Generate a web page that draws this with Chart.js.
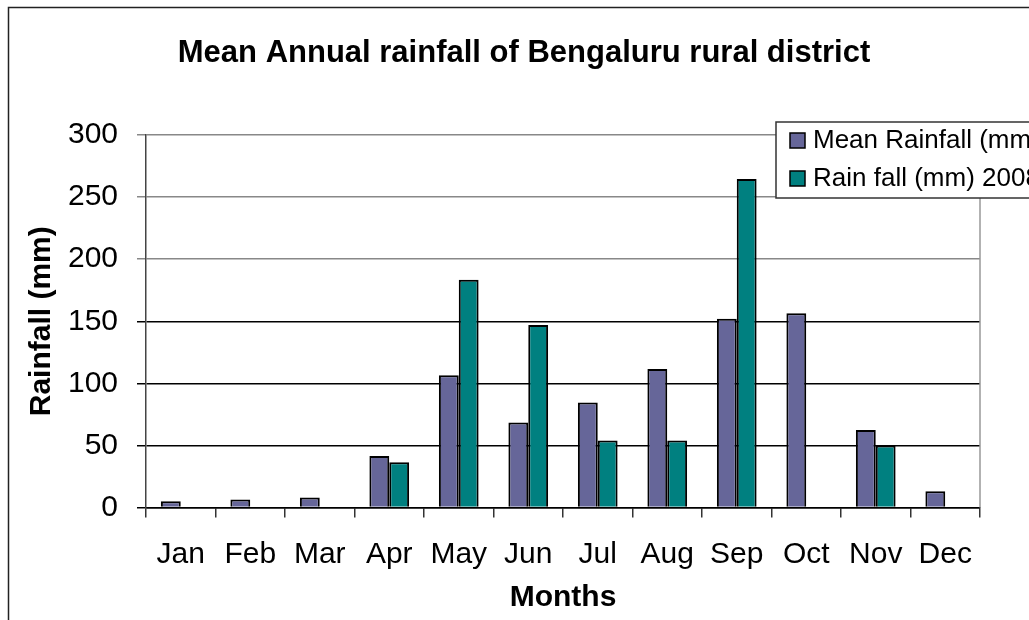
<!DOCTYPE html>
<html lang="en">
<head>
  <meta charset="UTF-8">
  <title>Mean Annual rainfall of Bengaluru rural district</title>
  <script src="https://cdn.jsdelivr.net/npm/chart.js"></script>
  <style>
    body { margin: 0; background: #fff; }
    #wrap { width: 1029px; height: 620px; }
  </style>
</head>
<body>
<div id="wrap"><canvas id="rainChart"></canvas></div>

<script>
// data (mm)
const months = ["Jan", "Feb", "Mar", "Apr", "May", "Jun", "Jul", "Aug", "Sep", "Oct", "Nov", "Dec"];
const meanRainfall = [5, 6.5, 8, 41.5, 106.5, 68.5, 84.5, 111.5, 152, 156.5, 62.5, 13];
const rain2008 = [null, null, null, 36.5, 183.5, 147, 54, 54, 264.5, null, 50, null];
const yTicks = [0, 50, 100, 150, 200, 250, 300];

const FONT = "'Liberation Sans', Arial, sans-serif";
Chart.defaults.font.family = FONT;
Chart.defaults.color = "#000";

// title, legend box, outer frame, right edge of plot
const excelBits = {
  id: "excelBits",
  afterDraw(chart) {
    const ctx = chart.ctx;
    const area = chart.chartArea;
    ctx.save();

    ctx.strokeStyle = "#999";
    ctx.lineWidth = 1.5;
    ctx.beginPath();
    ctx.moveTo(area.right, area.top);
    ctx.lineTo(area.right, area.bottom);
    ctx.stroke();

    ctx.fillStyle = "#000";
    ctx.font = "bold 31px " + FONT;
    ctx.textAlign = "center";
    ctx.textBaseline = "middle";
    ctx.fillText("Mean Annual rainfall of Bengaluru rural district", 524, 53);

    // legend
    ctx.fillStyle = "#fff";
    ctx.fillRect(776, 122, 300, 76);
    ctx.strokeStyle = "#333";
    ctx.lineWidth = 1.5;
    ctx.strokeRect(776, 122, 300, 76);
    ctx.font = "26px " + FONT;
    ctx.textAlign = "left";
    chart.data.datasets.forEach((ds, i) => {
      const cy = 140 + i * 38;
      ctx.fillStyle = ds.backgroundColor;
      ctx.fillRect(790, cy - 7, 15, 15);
      ctx.strokeStyle = "#000";
      ctx.strokeRect(790, cy - 7, 15, 15);
      ctx.fillStyle = "#000";
      ctx.fillText(ds.label, 813, cy + 1);
    });

    // chart frame
    ctx.strokeStyle = "#222";
    ctx.lineWidth = 1.5;
    ctx.strokeRect(8.5, 7.5, 1200, 800);
    ctx.restore();
  }
};

new Chart(document.getElementById("rainChart"), {
  type: "bar",
  data: {
    labels: months,
    datasets: [{
      label: "Mean Rainfall (mm)",
      data: meanRainfall,
      backgroundColor: "#666699",
      borderColor: "#000",
      borderWidth: 2
    }, {
      label: "Rain fall (mm) 2008",
      data: rain2008,
      backgroundColor: "#008080",
      borderColor: "#000",
      borderWidth: 2
    }]
  },
  options: {
    responsive: true,
    maintainAspectRatio: false,
    animation: false,
    categoryPercentage: 2 / 3.5,
    barPercentage: 1,
    layout: { padding: { top: 135, right: 49, left: 0, bottom: 0 } },
    plugins: {
      legend: { display: false },
      title: { display: false },
      tooltip: { enabled: false }
    },
    scales: {
      x: {
        grid: { drawOnChartArea: false, drawTicks: true, tickLength: 10, color: "#333", lineWidth: 1.5 },
        border: { color: "#000", width: 1.5 },
        ticks: { font: { size: 30 }, padding: 19, maxRotation: 0, autoSkip: false },
        title: { display: true, text: "Months", font: { size: 30, weight: "bold" }, padding: { top: 0, bottom: 4 } },
        afterFit(scale) { scale.height = 620 - 507.5; }
      },
      y: {
        min: 0,
        max: 300,
        afterBuildTicks(scale) { scale.ticks = yTicks.map(v => ({ value: v })); },
        grid: {
          tickLength: 9,
          lineWidth: 1.5,
          color: c => (c.tick && c.tick.value >= 200 ? "#888" : "#000")
        },
        border: { color: "#444", width: 1.5 },
        ticks: { font: { size: 30 }, padding: 19 },
        title: { display: true, text: "Rainfall (mm)", font: { size: 30, weight: "bold" }, padding: { top: 24, bottom: 0 } },
        afterFit(scale) { scale.width = 146; }
      }
    }
  },
  plugins: [excelBits]
});
</script>
</body>
</html>
